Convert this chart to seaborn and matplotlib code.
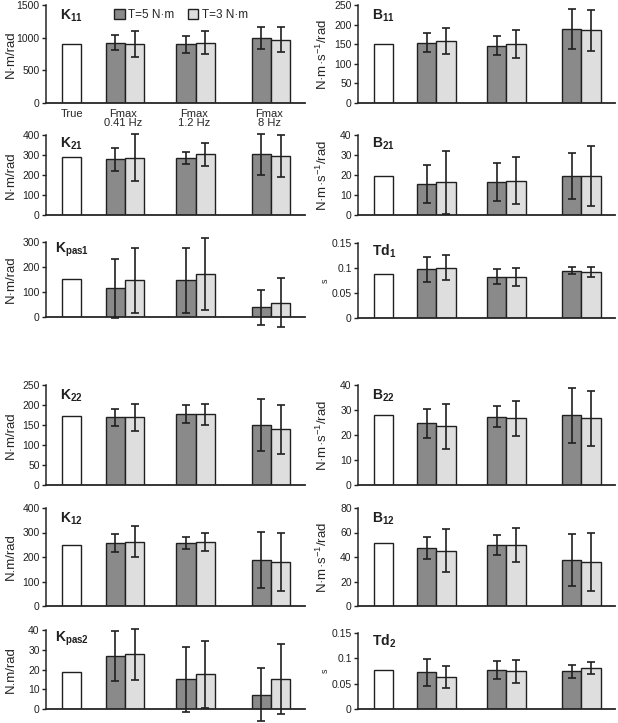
import numpy as np
import pandas as pd
import seaborn as sns
import matplotlib.pyplot as plt
from matplotlib.patches import Patch

# each list: True, Fmax 0.41 Hz (T=5, T=3), Fmax 1.2 Hz (T=5, T=3), Fmax 8 Hz (T=5, T=3)
k11_mean = [900, 925, 905, 900, 925, 995, 970]
k11_err = [0, 110, 200, 130, 180, 170, 190]
b11_mean = [150, 154, 158, 146, 150, 189, 185]
b11_err = [0, 24, 34, 24, 36, 50, 52]
k21_mean = [288, 278, 287, 287, 303, 303, 296]
k21_err = [0, 57, 119, 30, 56, 102, 106]
b21_mean = [19.6, 15.5, 16.3, 16.4, 17.2, 19.5, 19.5]
b21_err = [0, 9.4, 15.6, 9.5, 11.8, 11.3, 14.9]
kpas1_mean = [152, 115, 148, 148, 172, 40, 58]
kpas1_err = [0, 118, 130, 130, 143, 70, 98]
td1_mean = [0.088, 0.098, 0.101, 0.083, 0.083, 0.095, 0.092]
td1_err = [0, 0.025, 0.025, 0.015, 0.018, 0.007, 0.010]
k22_mean = [173, 169, 169, 177, 177, 150, 139]
k22_err = [0, 22, 33, 22, 26, 65, 62]
b22_mean = [28, 24.7, 23.6, 27.3, 26.7, 28, 26.7]
b22_err = [0, 5.7, 9, 4.2, 7, 11, 11]
k12_mean = [250, 257, 263, 257, 263, 188, 180]
k12_err = [0, 35, 65, 26, 37, 113, 117]
b12_mean = [51.5, 47.5, 45.3, 50, 50, 37.8, 36]
b12_err = [0, 9, 17.7, 8.3, 13.7, 21.3, 24]
kpas2_mean = [18.8, 26.8, 27.7, 15, 17.5, 7.2, 15]
kpas2_err = [0, 12.8, 13, 16.5, 17, 13.5, 17.7]
td2_mean = [0.0776, 0.0724, 0.0625, 0.0776, 0.0743, 0.0743, 0.081]
td2_err = [0, 0.027, 0.022, 0.018, 0.022, 0.013, 0.012]

kinds = ["True", "T=5 N·m", "T=3 N·m", "T=5 N·m", "T=3 N·m", "T=5 N·m", "T=3 N·m"]
group_labels = ["True", "Fmax\n0.41 Hz", "Fmax\n1.2 Hz", "Fmax\n8 Hz"]

sns.set_style("ticks")
plt.rcParams["font.family"] = ["Liberation Sans", "DejaVu Sans"]
plt.rcParams["mathtext.fontset"] = "custom"
plt.rcParams["mathtext.rm"] = "Liberation Sans"
plt.rcParams["mathtext.bf"] = "Liberation Sans:bold"
plt.rcParams["axes.linewidth"] = 1.1

palette = {"True": "white", "T=5 N·m": "#8a8a8a", "T=3 N·m": "#dedede"}
xpos = [0, 2.25, 3.25, 5.9, 6.9, 9.8, 10.8]

unit_k = "N·m/rad"
unit_k2 = "N.m/rad"
unit_b = "N·m·s$^{-1}$/rad"

# (label, mean, err, yticks, ytick labels, ylabel, column, (top px, bottom px))
panels = [
    (r"$\mathbf{K_{11}}$", k11_mean, k11_err, [0, 500, 1000, 1500], None, unit_k, 0, (5, 103)),
    (r"$\mathbf{B_{11}}$", b11_mean, b11_err, [0, 50, 100, 150, 200, 250], None, unit_b, 1, (5, 103)),
    (r"$\mathbf{K_{21}}$", k21_mean, k21_err, [0, 100, 200, 300, 400], None, unit_k, 0, (135, 215)),
    (r"$\mathbf{B_{21}}$", b21_mean, b21_err, [0, 10, 20, 30, 40], None, unit_b, 1, (135, 215)),
    (r"$\mathbf{K_{pas1}}$", kpas1_mean, kpas1_err, [0, 100, 200, 300], None, unit_k, 0, (242, 317)),
    (r"$\mathbf{Td_1}$", td1_mean, td1_err, [0, 0.05, 0.1, 0.15], ["0", "0.05", "0.1", "0.15"], "s", 1, (243, 318)),
    (r"$\mathbf{K_{22}}$", k22_mean, k22_err, [0, 50, 100, 150, 200, 250], None, unit_k, 0, (385, 485)),
    (r"$\mathbf{B_{22}}$", b22_mean, b22_err, [0, 10, 20, 30, 40], None, unit_b, 1, (385, 485)),
    (r"$\mathbf{K_{12}}$", k12_mean, k12_err, [0, 100, 200, 300, 400], None, unit_k2, 0, (508, 606)),
    (r"$\mathbf{B_{12}}$", b12_mean, b12_err, [0, 20, 40, 60, 80], None, unit_b, 1, (508, 606)),
    (r"$\mathbf{K_{pas2}}$", kpas2_mean, kpas2_err, [0, 10, 20, 30, 40], None, unit_k2, 0, (630, 709)),
    (r"$\mathbf{Td_2}$", td2_mean, td2_err, [0, 0.05, 0.1, 0.15], ["0", "0.05", "0.1", "0.15"], "s", 1, (633, 709)),
]

W, H = 618, 723
fig = plt.figure(figsize=(W / 100, H / 100), dpi=100)
col_x = [(46, 259), (358, 257)]

for i, (label, mean, err, yt, ytl, ylab, col, (top, bot)) in enumerate(panels):
    x0, w = col_x[col]
    ax = fig.add_axes([x0 / W, 1 - bot / H, w / W, (bot - top) / H])
    df = pd.DataFrame({"pos": xpos, "value": mean, "kind": kinds})
    sns.barplot(data=df, x="pos", y="value", hue="kind", palette=palette,
                native_scale=True, dodge=False, width=1.0, errorbar=None,
                edgecolor="#202020", linewidth=1.0, legend=False, ax=ax)
    ax.errorbar(xpos[1:], mean[1:], yerr=err[1:], fmt="none", ecolor="#202020",
                elinewidth=1.2, capsize=2.8, capthick=1.2, clip_on=False, zorder=5)
    ax.set_xlim(-1.33, 12.05)
    ax.set_ylim(0, yt[-1])
    ax.set_yticks(yt)
    if ytl is not None:
        ax.set_yticklabels(ytl)
    ax.tick_params(axis="y", labelsize=7.5, length=3, width=1, pad=1.5, colors="#202020")
    sns.despine(ax=ax)
    ax.spines["bottom"].set_linewidth(1.3)
    if i == 0:
        ax.set_xticks([0, 2.65, 6.3, 10.2])
        ax.set_xticklabels(group_labels, fontsize=8, linespacing=0.95)
        ax.tick_params(axis="x", length=0, pad=4)
    else:
        ax.set_xticks([])
    ax.set_xlabel("")
    if ylab == "s":
        ax.set_ylabel(ylab, fontsize=6.5)
    else:
        ax.set_ylabel(ylab, fontsize=9.5)
    if col == 0:
        ax.yaxis.set_label_coords(-0.112, 0.5)
    else:
        ax.yaxis.set_label_coords(-0.108, 0.5)
    ax.text(0.055 if "pas" not in label else 0.035, 0.89, label, transform=ax.transAxes,
            fontsize=10, va="center", ha="left", color="#202020")

    if i == 0:
        handles = [Patch(facecolor=palette["T=5 N·m"], edgecolor="#202020", linewidth=1.0),
                   Patch(facecolor=palette["T=3 N·m"], edgecolor="#202020", linewidth=1.0)]
        fig.legend(handles, ["T=5 N·m", "T=3 N·m"], loc="center",
                   bbox_to_anchor=(181 / W, 1 - 15 / H), ncol=2, frameon=False,
                   fontsize=8.5, handlelength=0.9, handleheight=0.9,
                   handletextpad=0.3, columnspacing=1.1, borderpad=0)

fig.savefig("out.png", dpi=100)
